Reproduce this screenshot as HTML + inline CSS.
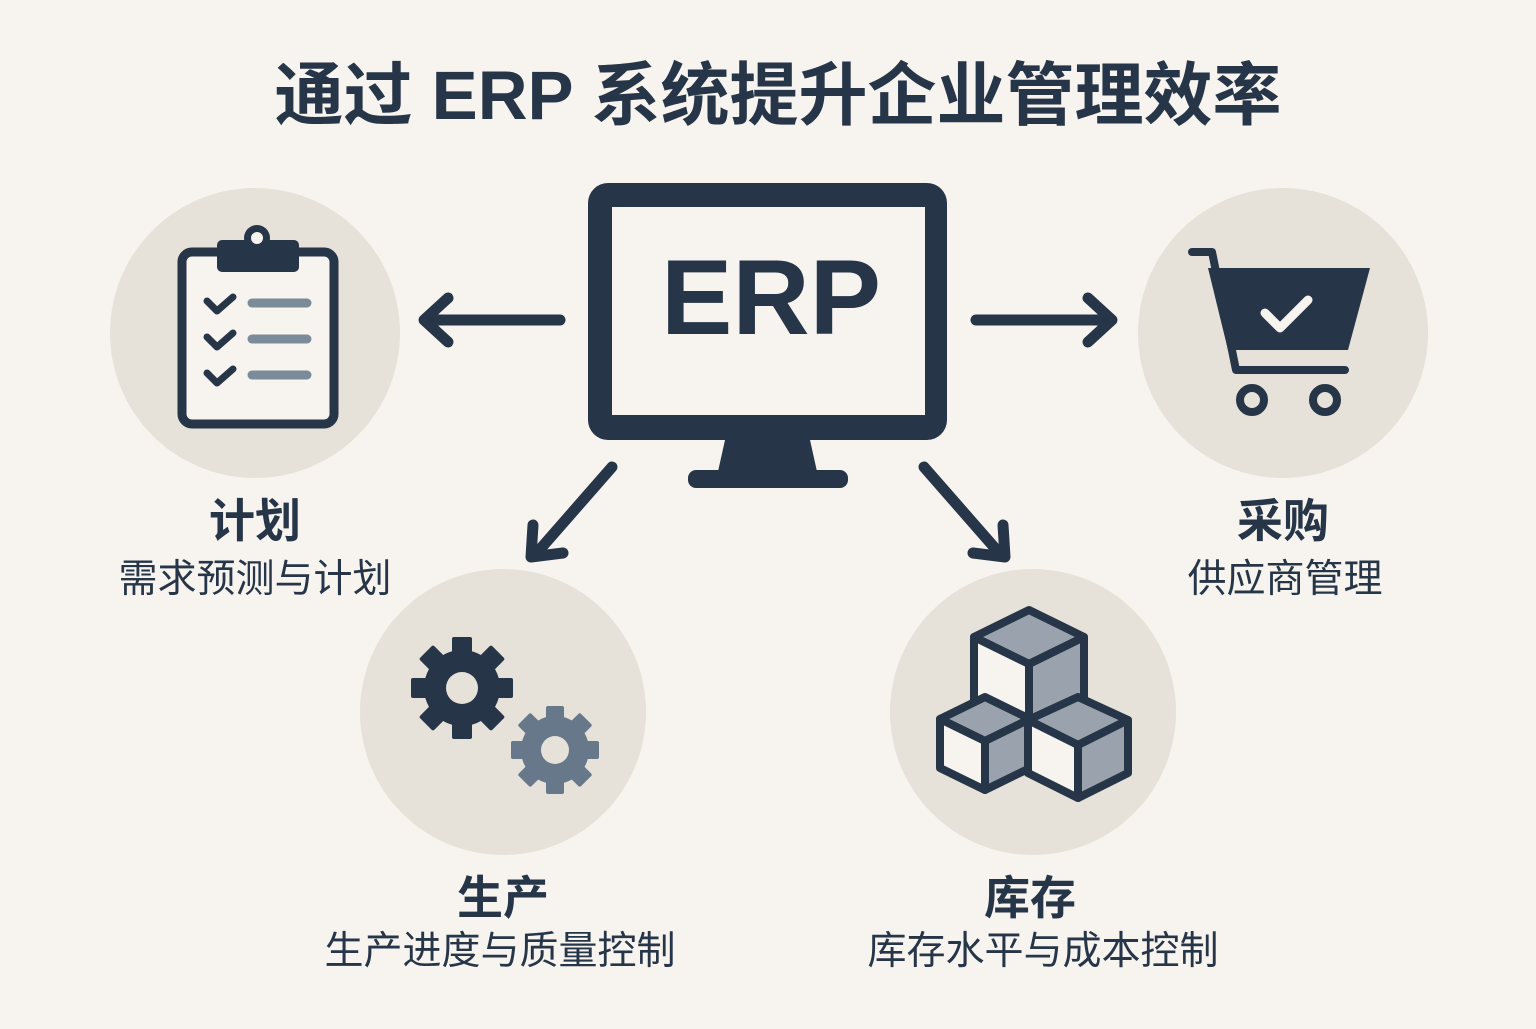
<!DOCTYPE html><html><head><meta charset="utf-8"><style>
body{margin:0;background:#f7f4ef}
text{font-family:"Liberation Sans","Noto Sans CJK SC",sans-serif;fill:#263547}
</style></head><body>
<svg width="1536" height="1024" viewBox="0 0 1536 1024" xmlns="http://www.w3.org/2000/svg">
<rect width="1536" height="1024" fill="#f7f4ef"/>
<text x="778" y="119" font-size="69" font-weight="bold" text-anchor="middle">通过 ERP 系统提升企业管理效率</text>
<g fill="#e6e1d9">
<circle cx="255" cy="333" r="145"/><circle cx="1283" cy="333" r="145"/>
<circle cx="503" cy="712" r="143"/><circle cx="1033" cy="712" r="143"/>
</g>
<rect x="588" y="183" width="359" height="257" rx="20" fill="#263547"/>
<rect x="612" y="207" width="313" height="208" fill="#f7f4ef"/>
<polygon points="725,440 810,440 818,476 717,476" fill="#263547"/>
<rect x="688" y="470" width="160" height="18" rx="8" fill="#263547"/>
<text x="771" y="334" font-size="107" font-weight="bold" text-anchor="middle">ERP</text>
<g stroke="#263547" stroke-width="11" fill="none" stroke-linecap="round" stroke-linejoin="round">
<path d="M560 320 H428 M448 298 L424 320 L448 342"/>
<path d="M976 320 H1108 M1088 298 L1112 320 L1088 342"/>
<path d="M612 467 L535 555 M533 525 L531 557 L563 553"/>
<path d="M924 467 L1001 555 M1003 525 L1005 557 L973 553"/>
</g>
<rect x="182" y="252" width="152" height="172" rx="10" fill="#f7f4ef" stroke="#263547" stroke-width="9"/>
<rect x="217" y="240" width="82" height="32" rx="5" fill="#263547"/>
<circle cx="257" cy="238" r="13" fill="#263547"/><circle cx="257" cy="238" r="6" fill="#f7f4ef"/>
<g stroke="#263547" stroke-width="7" fill="none" stroke-linecap="round" stroke-linejoin="round">
<path d="M207 301 L217 311 L233 297"/><path d="M207 337 L217 347 L233 333"/><path d="M207 373 L217 383 L233 369"/>
</g>
<g stroke="#7a8b99" stroke-width="9" stroke-linecap="round">
<path d="M252 303 H307"/><path d="M252 339 H307"/><path d="M252 375 H307"/>
</g>
<g stroke="#263547" stroke-width="8" fill="none" stroke-linecap="round" stroke-linejoin="round">
<path d="M1192 252 H1212 L1236 370 H1345"/>
<circle cx="1252" cy="400" r="12"/><circle cx="1325" cy="400" r="12"/>
</g>
<polygon points="1208,268 1370,268 1348,350 1228,350" fill="#263547"/>
<path d="M1265 313 L1280 328 L1308 300" stroke="#f7f4ef" stroke-width="9" fill="none" stroke-linecap="round" stroke-linejoin="round"/>
<g fill="#263547">
<circle cx="462" cy="688" r="38"/>
<g id="t1"><rect x="452" y="637" width="20" height="18" rx="2"/></g>
<use href="#t1" transform="rotate(45 462 688)"/><use href="#t1" transform="rotate(90 462 688)"/><use href="#t1" transform="rotate(135 462 688)"/>
<use href="#t1" transform="rotate(180 462 688)"/><use href="#t1" transform="rotate(225 462 688)"/><use href="#t1" transform="rotate(270 462 688)"/><use href="#t1" transform="rotate(315 462 688)"/>
</g>
<circle cx="462" cy="688" r="16" fill="#e6e1d9"/>
<g fill="#66788a">
<circle cx="555" cy="750" r="34"/>
<g id="t2"><rect x="546" y="706" width="18" height="16" rx="2"/></g>
<use href="#t2" transform="rotate(45 555 750)"/><use href="#t2" transform="rotate(90 555 750)"/><use href="#t2" transform="rotate(135 555 750)"/>
<use href="#t2" transform="rotate(180 555 750)"/><use href="#t2" transform="rotate(225 555 750)"/><use href="#t2" transform="rotate(270 555 750)"/><use href="#t2" transform="rotate(315 555 750)"/>
</g>
<circle cx="555" cy="750" r="14" fill="#e6e1d9"/>
<g stroke="#263547" stroke-width="8" stroke-linejoin="round">
<g>
<polygon points="1029,610 1084,637 1029,664 974,637" fill="#9aa3ad"/>
<polygon points="974,637 1029,664 1029,732 974,705" fill="#f7f4ef"/>
<polygon points="1029,664 1084,637 1084,705 1029,732" fill="#9aa3ad"/>
</g>
<g>
<polygon points="985,697 1030,719 985,741 940,719" fill="#9aa3ad"/>
<polygon points="940,719 985,741 985,790 940,768" fill="#f7f4ef"/>
<polygon points="985,741 1030,719 1030,768 985,790" fill="#9aa3ad"/>
</g>
<g>
<polygon points="1078,697 1128,720 1078,745 1028,720" fill="#9aa3ad"/>
<polygon points="1028,720 1078,745 1078,798 1028,773" fill="#f7f4ef"/>
<polygon points="1078,745 1128,720 1128,773 1078,798" fill="#9aa3ad"/>
</g>
</g>
<g font-size="46" text-anchor="middle">
<text x="255" y="537" font-weight="bold">计划</text>
<text x="1283" y="537" font-weight="bold">采购</text>
<text x="503" y="914" font-weight="bold">生产</text>
<text x="1030" y="914" font-weight="bold">库存</text>
</g>
<g font-size="39" text-anchor="middle">
<text x="255" y="592">需求预测与计划</text>
<text x="1285" y="592">供应商管理</text>
<text x="500" y="964">生产进度与质量控制</text>
<text x="1043" y="964">库存水平与成本控制</text>
</g>
</svg>
</body></html>
